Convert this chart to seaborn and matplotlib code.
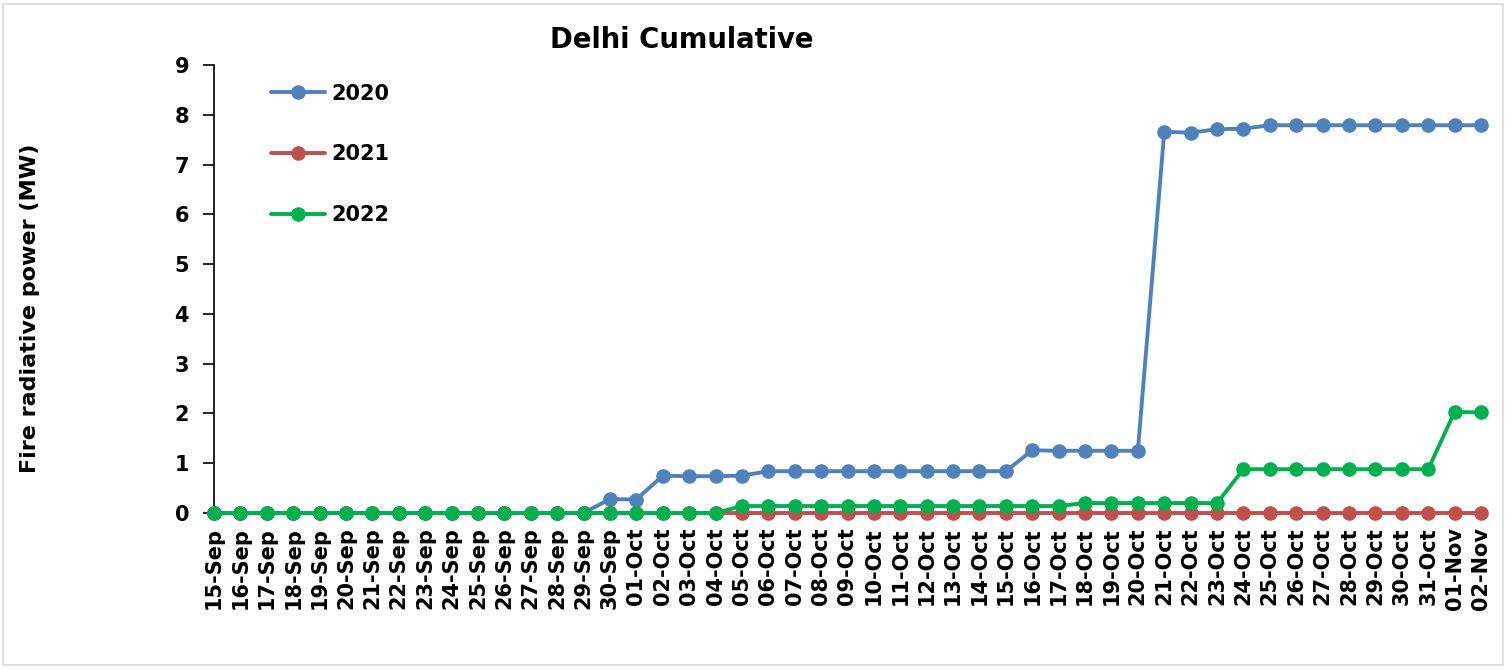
import matplotlib
matplotlib.use('Agg')
import matplotlib.pyplot as plt
import matplotlib.patches as mpatches
import seaborn as sns
import numpy as np
import pandas as pd

# dates on the x axis
dates = ['15-Sep', '16-Sep', '17-Sep', '18-Sep', '19-Sep', '20-Sep', '21-Sep', '22-Sep',
         '23-Sep', '24-Sep', '25-Sep', '26-Sep', '27-Sep', '28-Sep', '29-Sep', '30-Sep',
         '01-Oct', '02-Oct', '03-Oct', '04-Oct', '05-Oct', '06-Oct', '07-Oct', '08-Oct',
         '09-Oct', '10-Oct', '11-Oct', '12-Oct', '13-Oct', '14-Oct', '15-Oct', '16-Oct',
         '17-Oct', '18-Oct', '19-Oct', '20-Oct', '21-Oct', '22-Oct', '23-Oct', '24-Oct',
         '25-Oct', '26-Oct', '27-Oct', '28-Oct', '29-Oct', '30-Oct', '31-Oct', '01-Nov',
         '02-Nov']

# cumulative fire radiative power (MW)
frp_2020 = [0, 0, 0, 0, 0, 0, 0, 0, 0, 0, 0, 0, 0, 0, 0, 0.28,
            0.27, 0.75, 0.74, 0.74, 0.75, 0.84, 0.84, 0.84, 0.84, 0.84, 0.84, 0.84,
            0.84, 0.84, 0.84, 1.26, 1.25, 1.25, 1.25, 1.25, 7.66, 7.64, 7.71, 7.72,
            7.79, 7.79, 7.79, 7.79, 7.79, 7.79, 7.79, 7.79, 7.79]
frp_2021 = [0] * len(dates)
frp_2022 = [0, 0, 0, 0, 0, 0, 0, 0, 0, 0, 0, 0, 0, 0, 0, 0,
            0, 0, 0, 0, 0.14, 0.14, 0.14, 0.14, 0.14, 0.14, 0.14, 0.14,
            0.14, 0.14, 0.14, 0.14, 0.14, 0.2, 0.2, 0.2, 0.2, 0.2, 0.2, 0.88,
            0.88, 0.88, 0.88, 0.88, 0.88, 0.88, 0.88, 2.03, 2.02]

years = ['2020', '2021', '2022']
colors = ['#4F81BD', '#C0504D', '#00B050']

df = pd.DataFrame({
    'pos': list(range(len(dates))) * 3,
    'frp': frp_2020 + frp_2021 + frp_2022,
    'year': [y for y in years for _ in dates],
})

sns.set_style('white')
plt.rcParams['font.family'] = ['DejaVu Sans']
plt.rcParams['font.weight'] = 'bold'
plt.rcParams['axes.titleweight'] = 'bold'
plt.rcParams['axes.labelweight'] = 'bold'
plt.rcParams['text.color'] = 'black'
plt.rcParams['axes.labelcolor'] = 'black'
plt.rcParams['xtick.color'] = 'black'
plt.rcParams['ytick.color'] = 'black'

fig = plt.figure(figsize=(15.06, 6.69), dpi=100)
ax = fig.add_axes([214 / 1506, 1 - 513 / 669, (1481 - 214) / 1506, (513 - 65) / 669])

sns.lineplot(data=df, x='pos', y='frp', hue='year', palette=colors,
             marker='o', markersize=10.5, markeredgewidth=0, linewidth=2.8,
             sort=False, ax=ax, clip_on=False, zorder=3)

ax.set_xlim(0, len(dates) - 1)
ax.set_ylim(0, 9)
ax.set_yticks(range(0, 10))
ax.set_xticks(range(len(dates)))
ax.set_xticklabels(dates, rotation=90, fontsize=15, fontweight='bold')
ax.tick_params(axis='y', labelsize=15, length=8, width=1.2, direction='out', left=True, pad=10)
ax.tick_params(axis='x', length=4, width=1.2, direction='out', bottom=True, pad=6)
for lbl in ax.get_yticklabels():
    lbl.set_fontweight('bold')

ax.set_xlabel('')
ax.set_ylabel('Fire radiative power (MW)', fontsize=16, fontweight='bold')
ax.yaxis.set_label_coords(-0.137, 0.458)
ax.set_title('Delhi Cumulative', fontsize=19.8, fontweight='bold', pad=12, x=0.369)

for side in ['top', 'right']:
    ax.spines[side].set_visible(False)
for side in ['left', 'bottom']:
    ax.spines[side].set_color('black')
    ax.spines[side].set_linewidth(1.2)

# legend inside top-left, wide row spacing
handles, labels = ax.get_legend_handles_labels()
ax.legend(handles, labels, loc='upper left', bbox_to_anchor=(0.03, 1.0), frameon=False,
          labelspacing=1.95, handlelength=2.6, handletextpad=0.3,
          prop={'weight': 'bold', 'size': 15})

# light grey frame around the whole chart
fig.patches.append(mpatches.Rectangle((3 / 1506, 4 / 669), 1500 / 1506, 661 / 669,
                                      transform=fig.transFigure, fill=False,
                                      edgecolor='#D9D9D9', linewidth=1.2))

plt.savefig('out.png', dpi=100)
plt.close()
